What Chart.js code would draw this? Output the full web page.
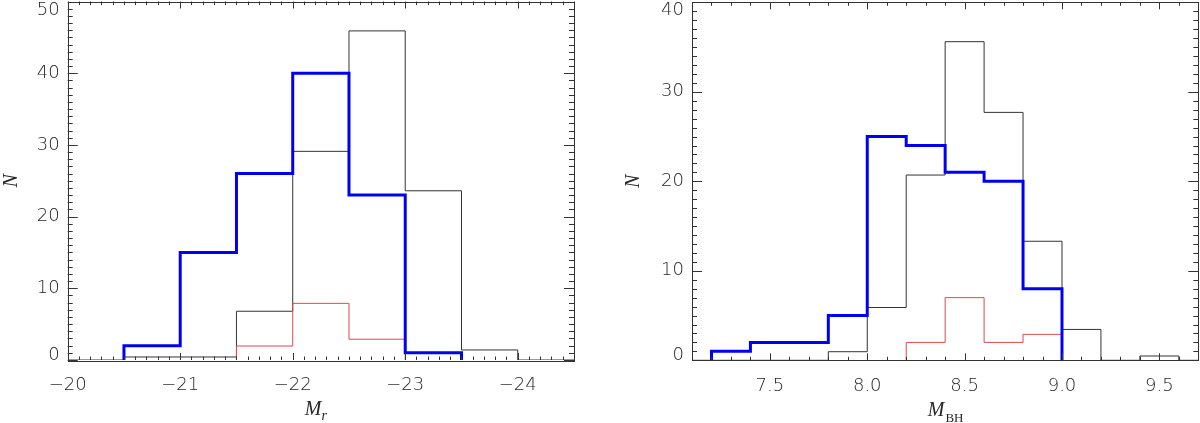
<!DOCTYPE html>
<html><head><meta charset="utf-8">
<script src="https://cdn.jsdelivr.net/npm/chart.js@4.4.1/dist/chart.umd.min.js"></script>
<style>
html,body{margin:0;padding:0;background:#fff;}
#wrap{position:relative;width:1200px;height:423px;overflow:hidden;background:#fff;}
.cv{position:absolute;top:0;width:600px;height:423px;}
</style></head><body>
<div id="wrap">
<canvas id="c1" class="cv" style="left:0" width="600" height="423"></canvas>
<canvas id="c2" class="cv" style="left:600px" width="600" height="423"></canvas>
</div>
<script>
// ---- Left panel: M_r histograms (bin edges + counts) ----
const mrBlackEdges = [-20, -20.5, -21, -21.5, -22, -22.5, -23, -23.5, -24, -24.5];
const mrBlackCounts = [0, 0.42, 0.42, 6.8, 29.1, 45.9, 23.6, 1.4, 0];
const mrRedEdges = [-21.5, -22, -22.5, -23];
const mrRedCounts = [1.95, 7.9, 2.9];
const mrBlueEdges = [-20.5, -21, -21.5, -22, -22.5, -23, -23.5];
const mrBlueCounts = [2, 15, 26, 40, 23, 1];
const mrXTicks = [-20, -21, -22, -23, -24];
const mrYTicks = [0, 10, 20, 30, 40, 50];

// ---- Right panel: M_BH histograms ----
const bhBlackEdges = [7.0, 7.2, 7.4, 7.6, 7.8, 8.0, 8.2, 8.4, 8.6, 8.8, 9.0, 9.2, 9.4, 9.6, 9.8];
const bhBlackCounts = [0, 0, 0, 0, 0.96, 5.9, 20.7, 35.6, 27.7, 13.3, 3.45, 0, 0.48, 0];
const bhRedEdges = [8.2, 8.4, 8.6, 8.8, 9.0];
const bhRedCounts = [2, 7, 2, 2.9];
const bhBlueEdges = [7.2, 7.4, 7.6, 7.8, 8.0, 8.2, 8.4, 8.6, 8.8, 9.0];
const bhBlueCounts = [1, 2, 2, 5, 25, 24, 21, 20, 8];
const bhXTicks = [7.5, 8.0, 8.5, 9.0, 9.5];
const bhYTicks = [0, 10, 20, 30, 40];

function stepPoints(edges, counts) {
  const pts = [{x: edges[0], y: 0}];
  for (let i = 0; i < counts.length; i++) pts.push({x: edges[i], y: counts[i]});
  pts.push({x: edges[edges.length - 1], y: 0});
  return pts;
}

const TICK_FONT = {family: "'DejaVu Sans', sans-serif", size: 18, weight: 200};
const TEXT_COLOR = '#262626';

const framePlugin = {
  id: 'frame',
  afterDatasetsDraw(chart, args, o) {
    const {ctx, chartArea: a, scales: {x, y}} = chart;
    ctx.save();
    ctx.strokeStyle = '#333';
    ctx.lineWidth = 1;
    ctx.strokeRect(Math.round(a.left) + 0.5, Math.round(a.top) + 0.5,
                   Math.round(a.right - a.left), Math.round(a.bottom - a.top));
    ctx.beginPath();
    const isMajor = (v, m) => Math.abs(v / m - Math.round(v / m)) < 1e-6;
    const xlo = Math.min(x.min, x.max), xhi = Math.max(x.min, x.max);
    for (let k = Math.ceil(xlo / o.xMinor - 1e-6); k <= Math.floor(xhi / o.xMinor + 1e-6); k++) {
      const v = k * o.xMinor;
      const px = Math.round(x.getPixelForValue(v)) + 0.5;
      const len = isMajor(v, o.xMajor) ? o.xLen : o.xLen / 2;
      ctx.moveTo(px, a.bottom); ctx.lineTo(px, a.bottom - len);
      ctx.moveTo(px, a.top); ctx.lineTo(px, a.top + len);
    }
    for (let k = Math.ceil(y.min / o.yMinor - 1e-6); k <= Math.floor(y.max / o.yMinor + 1e-6); k++) {
      const v = k * o.yMinor;
      const py = Math.round(y.getPixelForValue(v)) + 0.5;
      const len = isMajor(v, o.yMajor) ? o.yLen : o.yLen / 2;
      ctx.moveTo(a.left, py); ctx.lineTo(a.left + len, py);
      ctx.moveTo(a.right, py); ctx.lineTo(a.right - len, py);
    }
    ctx.stroke();
    // x-axis title with subscript
    ctx.fillStyle = TEXT_COLOR;
    ctx.textBaseline = 'alphabetic';
    ctx.font = "italic 20px 'Liberation Serif', serif";
    const wM = ctx.measureText('M').width;
    ctx.font = o.subFont;
    const wS = ctx.measureText(o.sub).width;
    const cx = (a.left + a.right) / 2 + o.titleShift;
    const x0 = cx - (wM + wS) / 2;
    ctx.font = "italic 20px 'Liberation Serif', serif";
    ctx.fillText('M', x0, a.bottom + o.titleBase);
    ctx.font = o.subFont;
    ctx.fillText(o.sub, x0 + wM + o.subGap, a.bottom + o.titleBase + o.subDrop);
    ctx.restore();
  }
};

function makeChart(id, d) {
  return new Chart(document.getElementById(id), {
    type: 'line',
    data: {datasets: [
      {data: stepPoints(d.blueEdges, d.blueCounts), borderColor: '#0000f0', borderWidth: 3,
       stepped: true, pointRadius: 0, fill: false, order: 1},
      {data: stepPoints(d.redEdges, d.redCounts), borderColor: '#e0484c', borderWidth: 1,
       stepped: true, pointRadius: 0, fill: false, order: 2},
      {data: stepPoints(d.blackEdges, d.blackCounts), borderColor: '#333', borderWidth: 1,
       stepped: true, pointRadius: 0, fill: false, order: 3}
    ]},
    options: {
      responsive: false, animation: false, devicePixelRatio: 1,
      events: [],
      plugins: {legend: {display: false}, tooltip: {enabled: false}, frame: d.frame},
      layout: {padding: {left: 0, right: d.padRight, top: d.padTop, bottom: 0}},
      scales: {
        x: {
          type: 'linear', min: d.xMin, max: d.xMax, reverse: d.reverse,
          afterBuildTicks: s => { s.ticks = d.xTicks.map(v => ({value: v})); },
          afterFit: s => { s.height = d.xAxisH; s.paddingLeft = 0; s.paddingRight = 0; },
          grid: {display: false, drawTicks: false}, border: {display: false},
          ticks: {font: TICK_FONT, color: TEXT_COLOR, padding: 15, maxRotation: 0, autoSkip: false,
                  callback: d.xFmt}
        },
        y: {
          type: 'linear', min: 0, max: d.yMax,
          afterBuildTicks: s => { s.ticks = d.yTicks.map(v => ({value: v})); },
          afterFit: s => { s.width = d.yAxisW; s.paddingTop = 0; s.paddingBottom = 0; },
          grid: {display: false, drawTicks: false}, border: {display: false},
          ticks: {color: TEXT_COLOR, padding: 8, autoSkip: false,
                  font: c => {
                    const v = c.tick ? c.tick.value : null;
                    let lh = 1.2;
                    if (v === d.yMax) lh = 17 / 18;
                    if (v === 0) lh = 10 / 18;
                    return Object.assign({}, TICK_FONT, {lineHeight: lh});
                  },
                  callback: v => v === d.yMax ? ['', String(v)] : (v === 0 ? [String(v), ''] : String(v))},
          title: {display: true, text: 'N', color: TEXT_COLOR,
                  font: {family: "'Liberation Serif', serif", style: 'italic', size: 20, lineHeight: 1.2},
                  padding: {top: d.yTitlePad, bottom: 0}}
        }
      }
    },
    plugins: [framePlugin]
  });
}

const minusFmt = v => v < 0 ? '\u2212' + Math.abs(v) : String(v);

makeChart('c1', {
  blueEdges: mrBlueEdges, blueCounts: mrBlueCounts,
  redEdges: mrRedEdges, redCounts: mrRedCounts,
  blackEdges: mrBlackEdges, blackCounts: mrBlackCounts,
  xMin: -24.5, xMax: -20, reverse: true, xTicks: mrXTicks, xFmt: minusFmt,
  yMax: 50, yTicks: mrYTicks,
  padRight: 26, padTop: 1.5, xAxisH: 63, yAxisW: 67.7, yTitlePad: 0,
  frame: {xMinor: 0.1, xMajor: 1, yMinor: 1, yMajor: 10, xLen: 7, yLen: 10,
          sub: 'r', subFont: "italic 14px 'Liberation Serif', serif", subGap: 0, subDrop: 5,
          titleShift: -5, titleBase: 55}
});

makeChart('c2', {
  blueEdges: bhBlueEdges, blueCounts: bhBlueCounts,
  redEdges: bhRedEdges, redCounts: bhRedCounts,
  blackEdges: bhBlackEdges, blackCounts: bhBlackCounts,
  xMin: 7.1, xMax: 9.7, reverse: false, xTicks: bhXTicks, xFmt: v => v.toFixed(1),
  yMax: 40, yTicks: bhYTicks,
  padRight: 1.7, padTop: 2.3, xAxisH: 62.7, yAxisW: 92, yTitlePad: 22,
  frame: {xMinor: 0.1, xMajor: 0.5, yMinor: 1, yMajor: 10, xLen: 7, yLen: 10,
          sub: 'BH', subFont: "13px 'Liberation Serif', serif", subGap: 1, subDrop: 6,
          titleShift: 0, titleBase: 56}
});
</script>
</body></html>
